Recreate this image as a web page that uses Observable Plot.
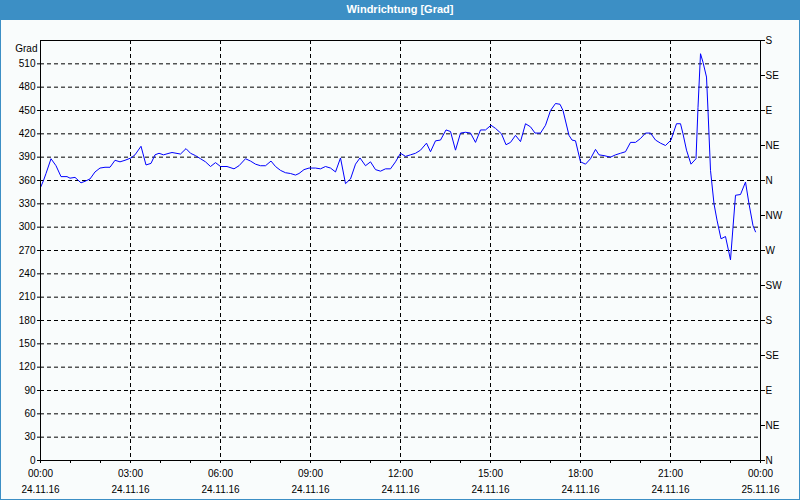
<!DOCTYPE html>
<html>
<head>
<meta charset="utf-8">
<script src="https://cdn.jsdelivr.net/npm/d3@7"></script>
<script src="https://cdn.jsdelivr.net/npm/@observablehq/plot@0.6"></script>
<style>
  html, body { margin: 0; padding: 0; background: #ffffff; }
  #wrap { position: relative; width: 800px; height: 500px; background: #f9fcfc; overflow: hidden; font-family: "Liberation Sans", Arial, sans-serif; }
  #title { position: absolute; left: 0; top: 0; width: 800px; height: 20px; background: #3c8fc5; color: #ffffff; font-weight: bold; font-size: 11px; line-height: 19px; text-align: center; }
  #chart { position: absolute; left: 0; top: 20px; }
  #border { position: absolute; left: 0; top: 0; width: 798px; height: 499px; border-left: 1px solid #3c8fc5; border-right: 1px solid #3c8fc5; border-bottom: 1px solid #3c8fc5; pointer-events: none; }
</style>
</head>
<body>
<div id="wrap">
  <div id="title">Windrichtung [Grad]</div>
  <div id="chart"></div>
  <div id="border"></div>
</div>
<script>
// Time of each reading (minutes after 00:00 on 24.11.16)
const minutes = [0,6,11,21,31,41,53,59,69,81,89,99,109,119,129,139,149,159,169,181,189,201,211,221,229,237,246,257,263,280,291,300,310,320,330,340,350,360,373,387,397,410,420,430,440,450,461,470,480,490,500,510,517,527,537,550,560,570,580,590,600,610,620,630,639,650,660,670,680,690,700,710,720,730,740,750,760,772,780,790,800,811,820,830,840,850,860,870,880,890,901,910,922,931,940,950,960,970,980,989,1000,1010,1020,1030,1039,1045,1057,1063,1070,1080,1090,1100,1110,1117,1127,1140,1150,1160,1170,1180,1190,1200,1210,1220,1230,1240,1250,1261,1272,1280,1285,1292,1301,1311,1315,1320,1325,1332,1335,1340,1347,1353,1361,1370,1380,1385,1390,1400,1410,1417,1425,1430];
// Wind direction (degrees)
const degrees = [351,360,369,388,379,365,365,363,364,357,359,362,371,376,377,377,386,384,386,389,393,404,380,382,393,395,393,395,396,394,401,395,392,388,384,378,383,378,378,375,379,388,385,381,379,379,385,378,373,370,369,367,369,374,376,376,375,378,376,371,389,356,362,381,389,379,384,374,372,375,375,384,395,391,393,395,399,408,397,411,412,425,423,399,421,422,421,409,425,425,431,427,420,406,409,418,410,433,429,421,421,431,450,459,458,450,418,412,411,384,381,388,400,393,392,390,393,395,397,409,409,414,421,421,412,408,405,412,433,433,420,399,381,388,454,523,512,493,450,373,330,309,285,288,258,300,341,342,358,330,302,294];

// Axis ticks and labels
const xMajorTicks = [0,180,360,540,720,900,1080,1260,1440];
const xTimeLabels = ["00:00","03:00","06:00","09:00","12:00","15:00","18:00","21:00","00:00"];
const xDateLabels = ["24.11.16","24.11.16","24.11.16","24.11.16","24.11.16","24.11.16","24.11.16","24.11.16","25.11.16"];
const xMinorTicks = d3.range(0, 1441, 60);
const yTicks = d3.range(0, 511, 30);
const compassTicks = [0,45,90,135,180,225,270,315,360,405,450,495,540];
const compassLabels = ["N","NE","E","SE","S","SW","W","NW","N","NE","E","SE","S"];

const data = minutes.map((t, i) => ({t, v: degrees[i]}));

const chart = Plot.plot({
  width: 800,
  height: 480,
  marginLeft: 40,
  marginRight: 40,
  marginTop: 20,
  marginBottom: 40,
  style: {fontFamily: "'Liberation Sans', Arial, sans-serif", fontSize: "10px", background: "transparent", color: "#000"},
  x: {domain: [0, 1440], label: null},
  y: {domain: [0, 540], label: null},
  marks: [
    Plot.gridY(yTicks.filter(d => d > 0), {stroke: "#000", strokeOpacity: 1, strokeDasharray: "4,3"}),
    Plot.gridX(xMajorTicks.filter(d => d > 0 && d < 1440), {stroke: "#000", strokeOpacity: 1, strokeDasharray: "4,3"}),
    Plot.line(data, {x: "t", y: "v", stroke: "#0000ff", strokeWidth: 1}),
    Plot.frame({stroke: "#000", strokeWidth: 1}),
    Plot.axisY(yTicks, {anchor: "left", tickSize: 3, tickPadding: 2, label: null}),
    Plot.axisY(compassTicks, {anchor: "right", tickSize: 4, tickPadding: 1, label: null,
      tickFormat: d => compassLabels[compassTicks.indexOf(d)]}),
    Plot.axisX(xMinorTicks, {anchor: "bottom", tickSize: 3, tickFormat: () => "", label: null}),
    Plot.axisX(xMajorTicks, {anchor: "bottom", tickSize: 3, tickPadding: 2, lineHeight: 1.6, label: null,
      tickFormat: d => { const i = xMajorTicks.indexOf(d); return xTimeLabels[i] + "\n" + xDateLabels[i]; }}),
    Plot.text(["Grad"], {frameAnchor: "top-left", textAnchor: "end", dx: -3, dy: 4})
  ]
});
document.getElementById("chart").appendChild(chart);
</script>
</body>
</html>
